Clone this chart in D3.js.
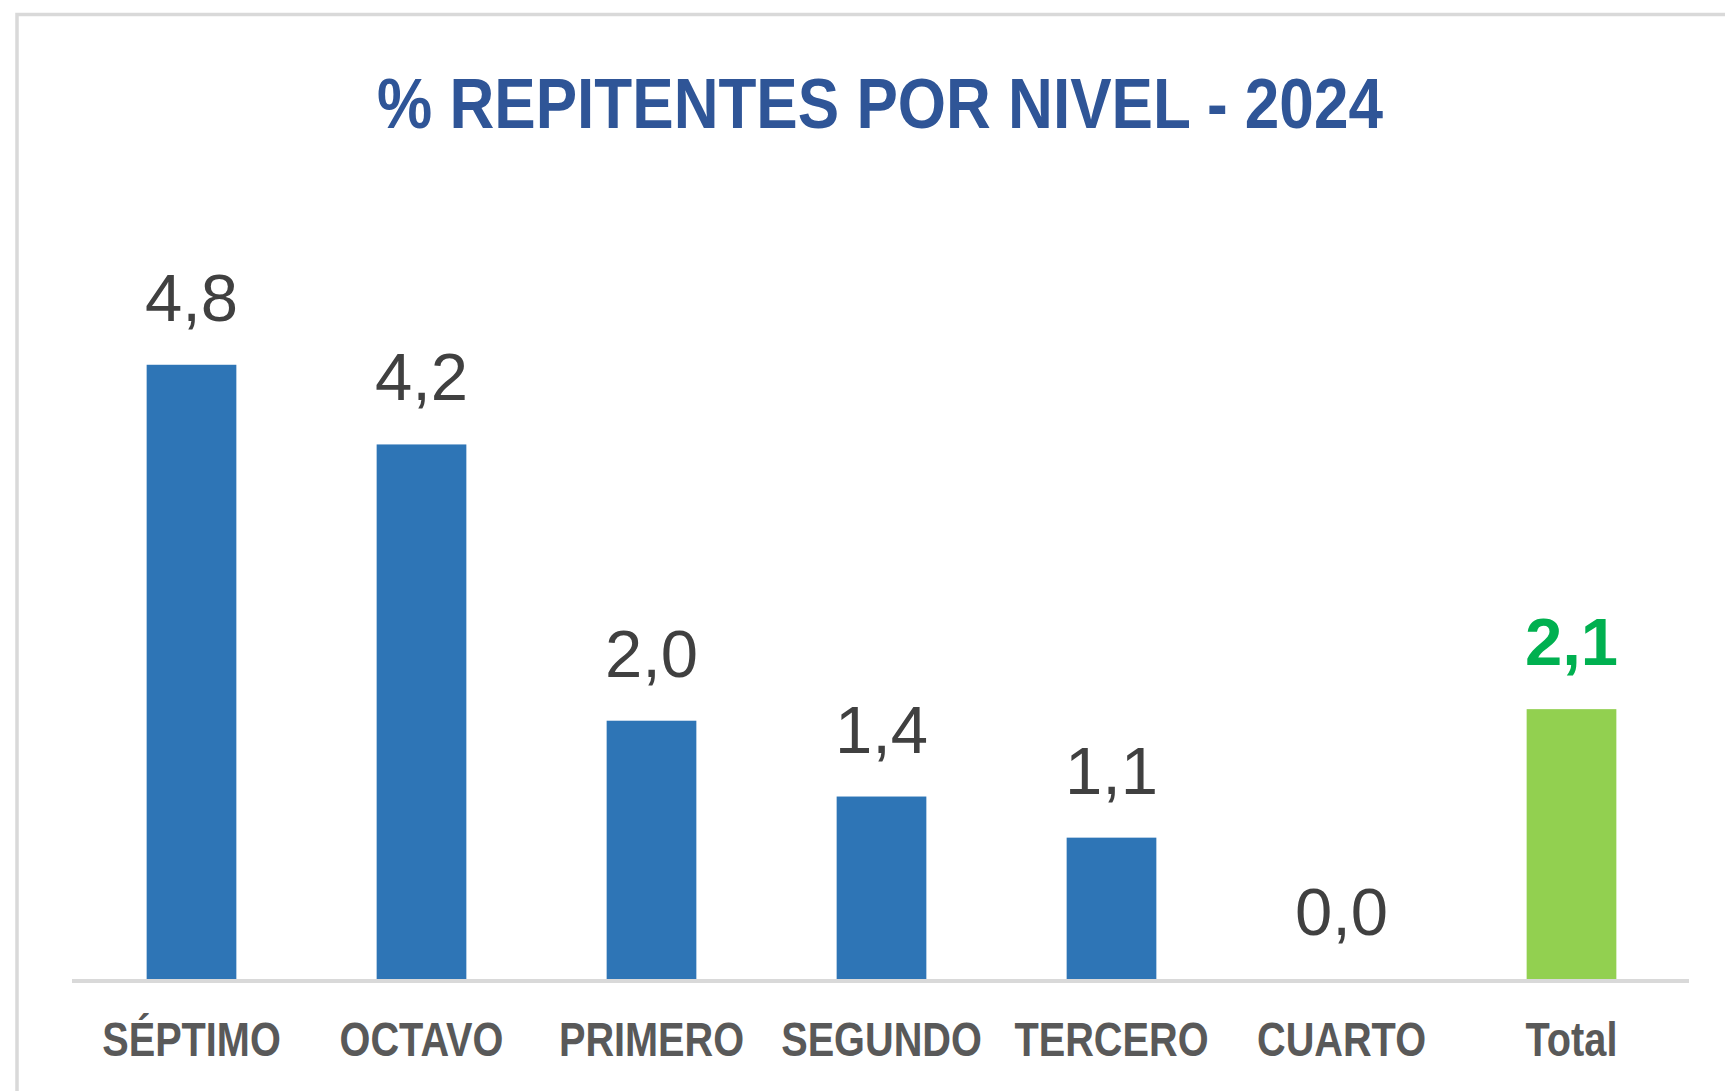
<!DOCTYPE html>
<html>
<head>
<meta charset="utf-8">
<script src="https://cdn.jsdelivr.net/npm/d3@7"></script>
<style>
  html, body { margin: 0; padding: 0; background: #fff; }
  svg { display: block; }
</style>
</head>
<body>
<svg id="chart" width="1725" height="1091"></svg>
<script>
const niveles = ["SÉPTIMO", "OCTAVO", "PRIMERO", "SEGUNDO", "TERCERO", "CUARTO", "Total"];
// values; labels show them rounded to one decimal
const porcentajes = [4.78, 4.16, 2.01, 1.42, 1.10, 0.0, 2.10];
const titulo = "% REPITENTES POR NIVEL - 2024";

const width = 1725, height = 1091;
const svg = d3.select("#chart");

// chart frame (cropped on right/bottom in the original)
svg.append("rect")
  .attr("x", 17).attr("y", 14.5)
  .attr("width", width + 20).attr("height", height + 20)
  .attr("fill", "#fff")
  .attr("stroke", "#d9d9d9")
  .attr("stroke-width", 3.5);

const x = d3.scaleBand()
  .domain(niveles)
  .range([76.5, 1686.5])
  .paddingInner(0.61)
  .paddingOuter(0.305);

const y = d3.scaleLinear()
  .domain([0, 5])
  .range([979, 979 - 5 * 128.5]);

const fmt = v => d3.format(".1f")(v).replace(".", ",");

// title, squeezed like the narrow original font
const title = svg.append("text")
  .attr("x", 0).attr("y", 0)
  .attr("text-anchor", "middle")
  .attr("font-family", "Liberation Sans, Arial, sans-serif")
  .attr("font-weight", "bold")
  .attr("font-size", 71)
  .attr("fill", "#2f5597")
  .text(titulo);
const tw = title.node().getComputedTextLength();
title.attr("transform", `translate(880,128) scale(${1006 / tw},1)`);

// bars
svg.append("g")
  .selectAll("rect")
  .data(niveles)
  .join("rect")
  .attr("x", d => x(d))
  .attr("y", (d, i) => y(porcentajes[i]))
  .attr("width", x.bandwidth())
  .attr("height", (d, i) => y(0) - y(porcentajes[i]))
  .attr("fill", d => d === "Total" ? "#92d050" : "#2e75b6");

// baseline axis
const axis = svg.append("g")
  .attr("transform", `translate(0,${y(0) + 2})`)
  .call(d3.axisBottom(x).tickSize(0).tickFormat(""));
axis.select(".domain")
  .attr("d", "M72,0H1689")
  .attr("stroke", "#d9d9d9")
  .attr("stroke-width", 4);

// category labels
svg.append("g")
  .selectAll("text")
  .data(niveles)
  .join("text")
  .attr("transform", d => `translate(${x(d) + x.bandwidth() / 2},1056) scale(0.81,1)`)
  .attr("text-anchor", "middle")
  .attr("font-family", "Liberation Sans, Arial, sans-serif")
  .attr("font-weight", "bold")
  .attr("font-size", 49)
  .attr("fill", "#595959")
  .text(d => d);

// value labels
svg.append("g")
  .selectAll("text")
  .data(niveles)
  .join("text")
  .attr("x", d => x(d) + x.bandwidth() / 2)
  .attr("y", (d, i) => y(porcentajes[i]) - 44)
  .attr("text-anchor", "middle")
  .attr("font-family", "Liberation Sans, Arial, sans-serif")
  .attr("font-weight", d => d === "Total" ? "bold" : "normal")
  .attr("font-size", 67)
  .attr("fill", d => d === "Total" ? "#00b050" : "#404040")
  .text((d, i) => fmt(porcentajes[i]));
</script>
</body>
</html>
